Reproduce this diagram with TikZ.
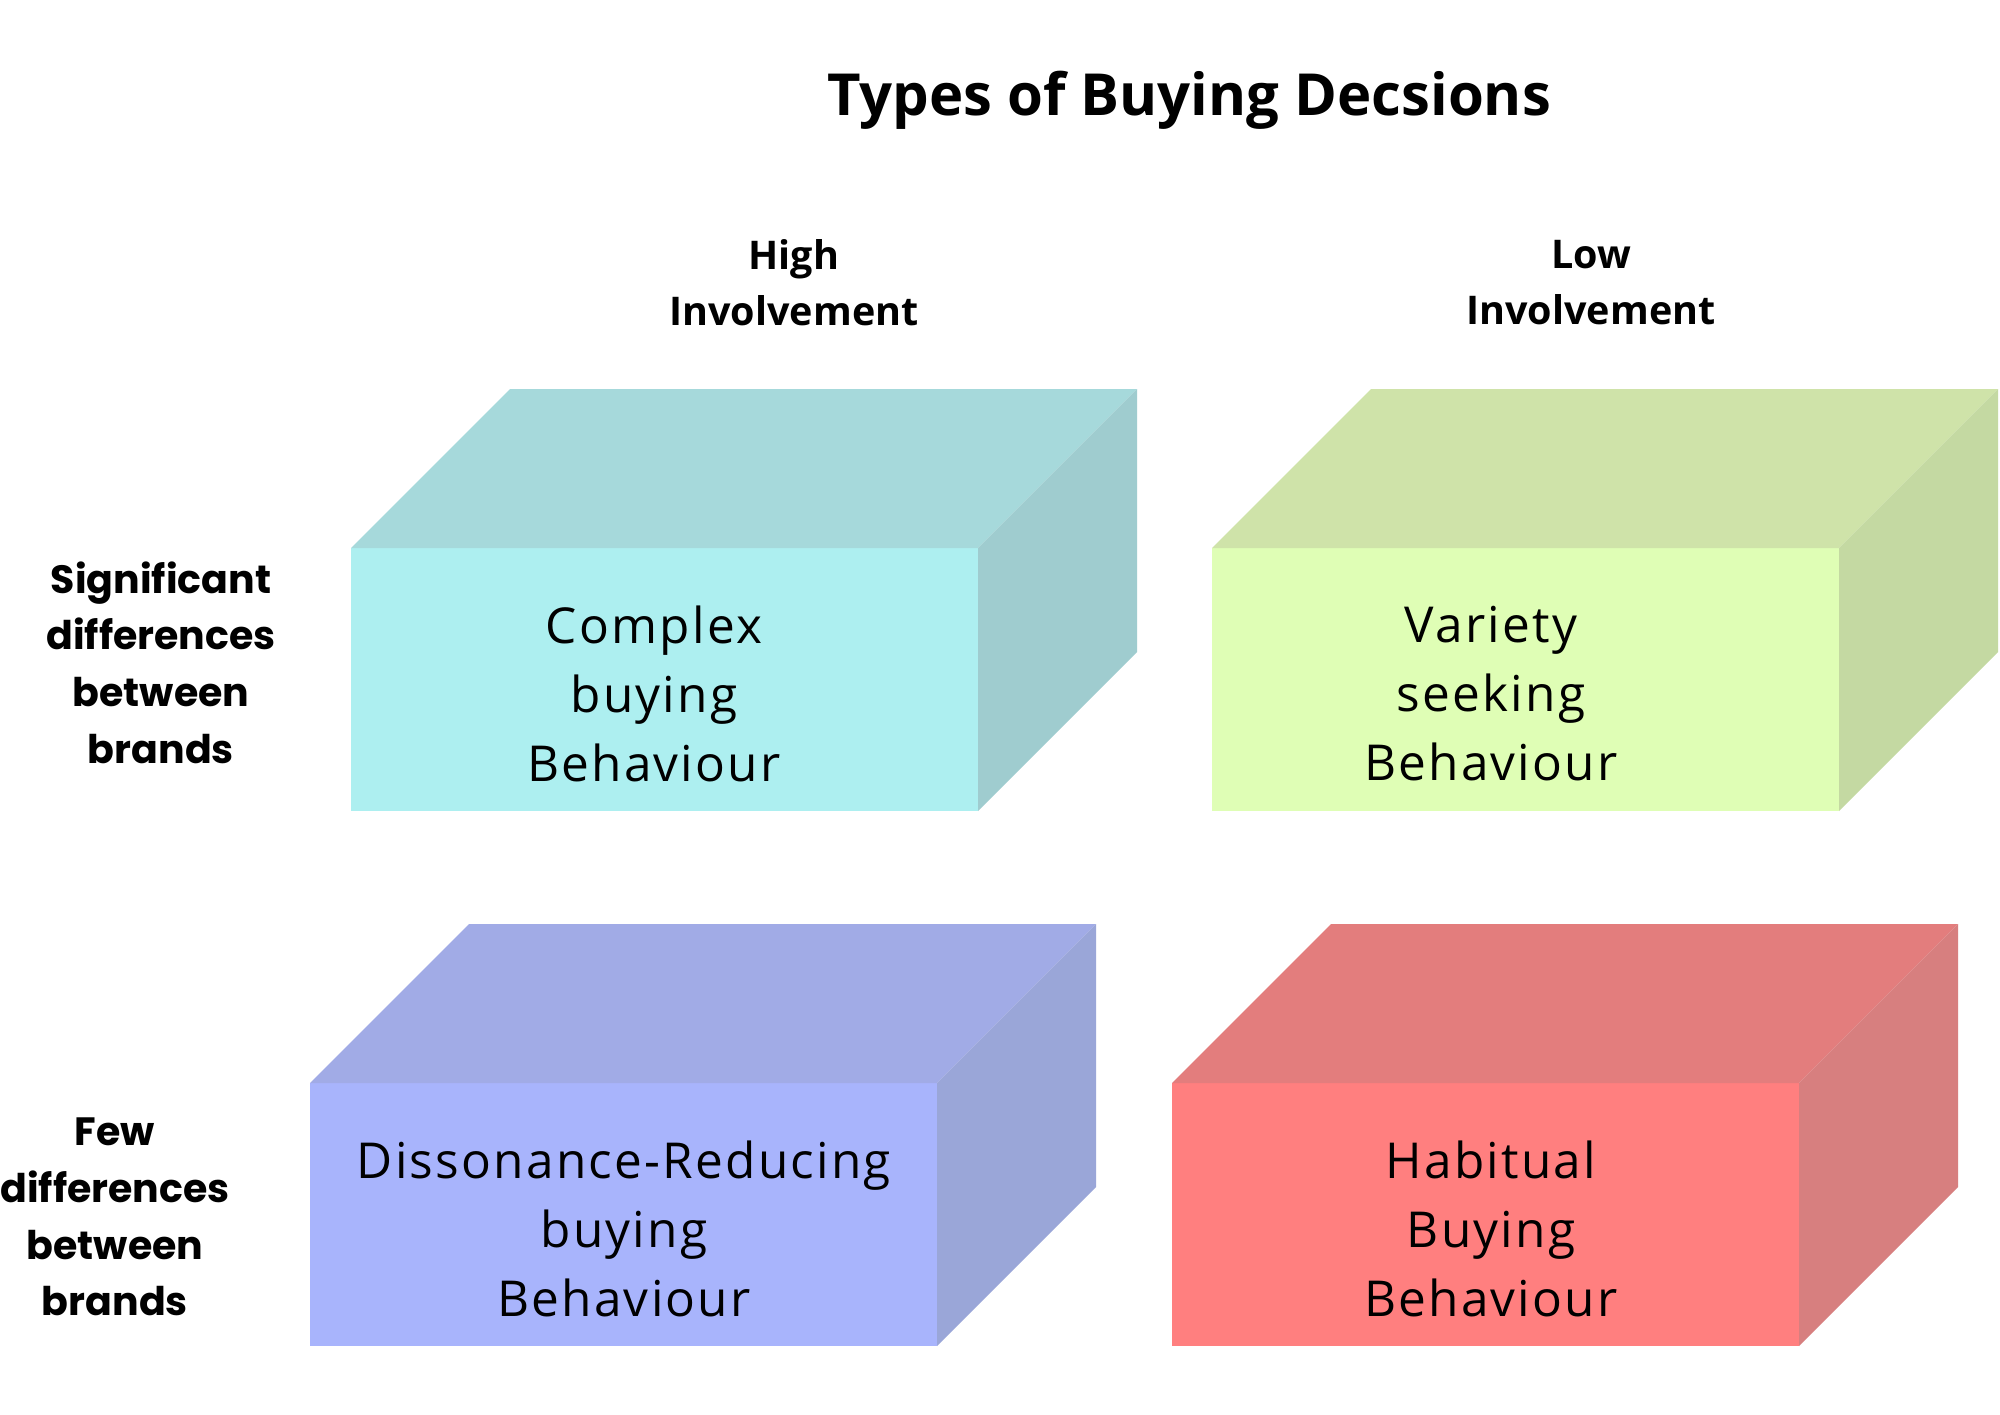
\documentclass[tikz,border=0pt]{standalone}
\usepackage{fontspec}
\setmainfont{Open Sans}
\newfontfamily\boxfont{Open Sans}[LetterSpace=4.5]
\newfontfamily\popfont{Poppins}
\definecolor{cyF}{HTML}{ADEFF0}
\definecolor{cyT}{HTML}{A6D9DB}
\definecolor{cyS}{HTML}{9FCCCF}
\definecolor{grF}{HTML}{DFFEB5}
\definecolor{grT}{HTML}{CFE3A9}
\definecolor{grS}{HTML}{C4D9A2}
\definecolor{blF}{HTML}{A8B4FC}
\definecolor{blT}{HTML}{A1ABE6}
\definecolor{blS}{HTML}{9AA6D8}
\definecolor{rdF}{HTML}{FF7F7F}
\definecolor{rdT}{HTML}{E37D7D}
\definecolor{rdS}{HTML}{D77F7F}
\tikzset{
  frontface/.style={rectangle, inner sep=0pt, outer sep=0pt, minimum width=627pt, minimum height=263pt, draw=none},
  boxtext/.style={align=center, inner sep=0pt, font=\boxfont\fontsize{49.5}{69}\selectfont},
  sidelabel/.style={align=center, inner sep=0pt, font=\popfont\bfseries\fontsize{39.5}{56.7}\selectfont},
  headlabel/.style={align=center, inner sep=0pt, font=\bfseries\fontsize{39.5}{56}\selectfont},
}
\newcommand{\cuboid}[4]{% name, front, top, side
  \fill[#3] (#1.north west) -- ++(159,-159) -- ([shift={(159,-159)}]#1.north east) -- (#1.north east) -- cycle;
  \fill[#4] (#1.north east) -- ++(159,-159) -- ([shift={(159,-159)}]#1.south east) -- (#1.south east) -- cycle;
}
\begin{document}
\begin{tikzpicture}[x=1pt,y=-1pt]
\useasboundingbox[fill=white] (0,0) rectangle (2000,1414);

\node[anchor=base, inner sep=0pt, font=\bfseries\fontsize{58}{68}\selectfont] (title) at (1189,115) {Types of Buying Decsions};

\node[headlabel] (high) at (794,283) {High\\Involvement};
\node[headlabel] (low) at (1591,283) {Low\\Involvement};

\node[sidelabel] (sig) at (161,662.5) {Significant\\differences\\between\\brands};
\node[sidelabel] (few) at (115,1217) {Few\\differences\\between\\brands};

% cubes
\node[frontface, fill=cyF, anchor=north west] (b1) at (351,548) {};
\cuboid{b1}{cyF}{cyT}{cyS}
\node[frontface, fill=grF, anchor=north west] (b2) at (1212,548) {};
\cuboid{b2}{grF}{grT}{grS}
\node[frontface, fill=blF, anchor=north west] (b3) at (310,1083) {};
\cuboid{b3}{blF}{blT}{blS}
\node[frontface, fill=rdF, anchor=north west] (b4) at (1172,1083) {};
\cuboid{b4}{rdF}{rdT}{rdS}

\node[boxtext] (t1) at (654,693.5) {Complex\\buying\\Behaviour};
\node[boxtext] (t2) at (1491,693.5) {Variety\\seeking\\Behaviour};
\node[boxtext] (t3) at (624,1228.5) {Dissonance-Reducing\\buying\\Behaviour};
\node[boxtext] (t4) at (1491,1228.5) {Habitual\\Buying\\Behaviour};
\end{tikzpicture}
\end{document}
